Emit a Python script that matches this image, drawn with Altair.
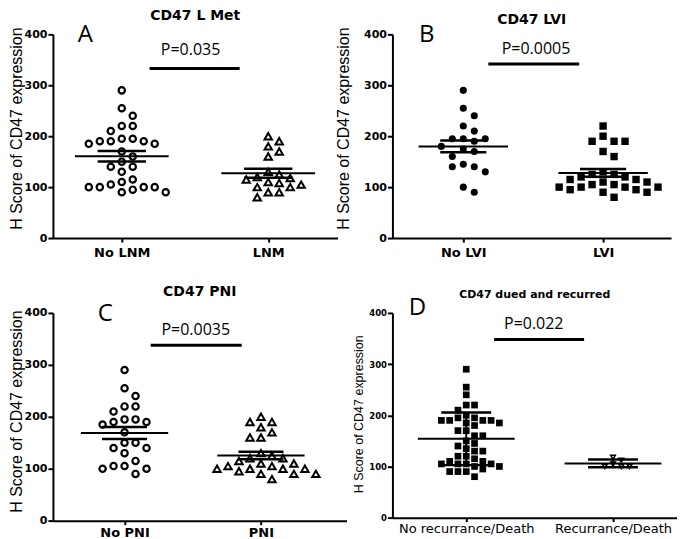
import statistics
import altair as alt
import pandas as pd

# ---------------- data: H score of CD47 expression ----------------
a_names = ["No LNM", "LNM"]
a_no_lnm = [290, 255, 240, 220, 220, 210, 195, 195, 190, 190, 190, 185, 185,
            170, 160, 150, 140, 140, 130, 115, 110, 105, 100, 100, 100, 100, 95, 90, 90]
a_lnm = [200, 190, 180, 170, 160, 130, 125, 120, 118, 115, 110, 108, 105,
         100, 100, 90, 90, 80]

b_names = ["No LVI", "LVI"]
b_no_lvi = [290, 255, 240, 220, 210, 195, 195, 195, 190, 180, 175, 170, 160,
            145, 140, 140, 130, 100, 90]
b_lvi = [220, 200, 190, 190, 190, 170, 160, 130, 125, 125, 120, 120, 115, 115,
         110, 110, 105, 105, 100, 100, 100, 100, 95, 95, 90, 90, 80]

c_names = ["No PNI", "PNI"]
c_no_pni = [290, 255, 240, 220, 220, 210, 195, 195, 190, 190, 185, 170, 150,
            150, 140, 140, 130, 115, 105, 105, 100, 100, 90]
c_pni = [200, 190, 190, 180, 170, 160, 160, 130, 125, 120, 120, 115, 110, 110,
         105, 105, 100, 100, 100, 100, 95, 90, 90, 90, 80]

d_names = ["No recurrance/Death", "Recurrance/Death"]
d_no_rec = [290, 255, 240, 220, 220, 210, 200, 195, 195, 190, 190, 190, 190,
            185, 185, 180, 170, 170, 160, 160, 150, 145, 140, 135, 130, 130,
            120, 120, 115, 110, 110, 105, 105, 105, 105, 100, 100, 95, 90, 90, 90, 80]
d_rec = [112, 100, 100, 100, 105, 118]

titles = ["CD47 L Met", "CD47 LVI", "CD47 PNI", "CD47 dued and recurred"]
letters = ["A", "B", "C", "D"]
p_values = ["P=0.035", "P=0.0005", "P=0.0035", "P=0.022"]
y_ticks = [0, 100, 200, 300, 400]
y_title = "H Score of CD47  expression"


def swarm(values, center, unit_px, slot_px, min_dy_px, val_px):
    """Simple scatter-dot-plot layout: spread near-equal values sideways."""
    order = sorted(range(len(values)), key=lambda i: -values[i])
    cand = [0]
    for k in range(1, 20):
        cand += [k, -k]
    placed = []
    xs = [0.0] * len(values)
    for i in order:
        yp = values[i] * val_px
        chosen = 0
        for s in cand:
            if all(not (ps == s and abs(py - yp) < min_dy_px) for ps, py in placed):
                chosen = s
                break
        placed.append((chosen, yp))
        xs[i] = center + chosen * slot_px / unit_px
    return xs


def panel(g1, g2, names, title, letter, ptext, s):
    w, h = s["w"], s["h"]
    x0, x1 = s["xdom"]
    unit_px = w / (x1 - x0)
    val_px = h / 400.0
    xs = alt.Scale(domain=[x0, x1], nice=False, zero=False)
    ys = alt.Scale(domain=[0, 400], nice=False)
    xaxis = alt.Axis(
        values=[1, 2],
        labelExpr=f"datum.value == 1 ? '{names[0]}' : (datum.value == 2 ? '{names[1]}' : '')",
        title=None, grid=False, domainColor="black", domainWidth=2,
        tickColor="black", tickWidth=2, tickSize=4, labelFont="DejaVu Sans",
        labelFontSize=s["xlab_size"], labelFontWeight=s["xlab_weight"],
        labelColor="black", labelPadding=s["xlab_pad"], labelAngle=0,
        labelFlush=False, labelOverlap=False,
    )
    yaxis = alt.Axis(
        values=y_ticks, title=None, grid=False, domainColor="black",
        domainWidth=2, tickColor="black", tickWidth=2, tickSize=5,
        labelFont="DejaVu Sans", labelFontSize=s["ylab_size"],
        labelFontWeight="bold", labelColor="black", labelPadding=1,
    )
    X = lambda f: alt.X(f, scale=xs, axis=xaxis)
    Y = lambda f: alt.Y(f, scale=ys, axis=yaxis)

    layers = []
    for c, vals, m in ((1, g1, s["m1"]), (2, g2, s["m2"])):
        px = swarm(vals, c, unit_px, m["slot"], m["dy"], val_px)
        df = pd.DataFrame({"x": px, "y": vals})
        layers.append(
            alt.Chart(df).mark_point(
                shape=m["shape"], filled=m["filled"], size=m["size"],
                strokeWidth=m["sw"], color="black", opacity=1,
            ).encode(x=X("x:Q"), y=Y("y:Q"))
        )

    mean_rows, err_rows, vert_rows = [], [], []
    for c, vals in ((1, g1), (2, g2)):
        mean = sum(vals) / len(vals)
        sd = statistics.stdev(vals)
        e = sd if s["err"] == "sd" else sd / len(vals) ** 0.5
        mean_rows.append({"x": c - s["mh"], "x2": c + s["mh"], "y": mean})
        for v in (mean - e, mean + e):
            err_rows.append({"x": c - s["eh"], "x2": c + s["eh"], "y": v})
        vert_rows.append({"x": c, "y": mean - e, "y2": mean + e})

    layers.append(
        alt.Chart(pd.DataFrame(mean_rows)).mark_rule(color="black", strokeWidth=2)
        .encode(x=X("x:Q"), x2="x2:Q", y=Y("y:Q"))
    )
    layers.append(
        alt.Chart(pd.DataFrame(err_rows)).mark_rule(color="black", strokeWidth=2.5)
        .encode(x=X("x:Q"), x2="x2:Q", y=Y("y:Q"))
    )
    if s["err"] == "sd":
        layers.append(
            alt.Chart(pd.DataFrame(vert_rows)).mark_rule(color="black", strokeWidth=2)
            .encode(x=X("x:Q"), y=Y("y:Q"), y2="y2:Q")
        )

    pb = s["pbar"]
    layers.append(
        alt.Chart(pd.DataFrame({"x": [pb[0]], "x2": [pb[1]], "y": [pb[2]]}))
        .mark_rule(color="black", strokeWidth=3)
        .encode(x=X("x:Q"), x2="x2:Q", y=Y("y:Q"))
    )
    pt = s["ptext"]
    layers.append(
        alt.Chart(pd.DataFrame({"x": [pt[0]], "y": [pt[1]], "t": [ptext]}))
        .mark_text(font="Open Sans", fontSize=16, color="black",
                   align="center", baseline="middle")
        .encode(x=X("x:Q"), y=Y("y:Q"), text="t:N")
    )
    lt = s["letter"]
    layers.append(
        alt.Chart(pd.DataFrame({"x": [lt[0]], "y": [lt[1]], "t": [letter]}))
        .mark_text(font="Open Sans", fontSize=24, color="black",
                   align="center", baseline="middle")
        .encode(x=X("x:Q"), y=Y("y:Q"), text="t:N")
    )
    # rotated y-axis title, placed left of the axis
    tx = x0 - s["ytitle_off"] / unit_px
    layers.append(
        alt.Chart(pd.DataFrame({"x": [tx], "y": [s["ytitle_y"]], "t": [y_title]}))
        .mark_text(font="Liberation Sans", fontSize=s["ytitle_size"], color="black",
                   align="center", baseline="middle", angle=270)
        .encode(x=X("x:Q"), y=Y("y:Q"), text="t:N")
    )

    return alt.layer(*layers).properties(
        width=w, height=h,
        title=alt.TitleParams(
            text=title, font="DejaVu Sans", fontSize=s["title_size"],
            fontWeight="bold", color="black", offset=s["title_offset"],
            anchor="middle", frame="group",
        ),
    )


open_circle = {"shape": "circle", "filled": False, "size": 40, "sw": 2.2, "slot": 11, "dy": 8.5}
open_tri = {"shape": "triangle-up", "filled": False, "size": 55, "sw": 2, "slot": 11, "dy": 8.5}
dot = {"shape": "circle", "filled": True, "size": 50, "sw": 0, "slot": 11, "dy": 8}
sq = {"shape": "square", "filled": True, "size": 55, "sw": 0, "slot": 11, "dy": 8}
sq_small = {"shape": "square", "filled": True, "size": 45, "sw": 0, "slot": 8.3, "dy": 6.7}
tri_down = {"shape": "triangle-down", "filled": False, "size": 22, "sw": 1.5, "slot": 8.3, "dy": 6}

common = {"xlab_size": 13, "xlab_weight": "bold", "xlab_pad": 4, "ylab_size": 11,
          "ytitle_size": 16, "ytitle_off": 36, "ytitle_y": 215,
          "title_size": 14, "mh": 0.32, "eh": 0.165, "err": "sem"}

spec_a = dict(common, w=285, h=204, xdom=[0.53, 2.473], m1=open_circle, m2=open_tri,
              title_offset=0, pbar=[1.19, 1.805, 333],
              ptext=[1.47, 370], letter=[0.752, 399])
spec_b = dict(common, w=279, h=204, xdom=[0.493, 2.486], m1=dot, m2=sq,
              ytitle_off=48, title_offset=-4, pbar=[1.179, 1.829, 342],
              ptext=[1.52, 372], letter=[0.739, 399])
spec_c = dict(common, w=294, h=208, xdom=[0.475, 2.627], m1=open_circle, m2=open_tri,
              ytitle_y=210, title_offset=4, xlab_pad=2, pbar=[1.192, 1.859, 338],
              ptext=[1.522, 367], letter=[0.859, 397])
spec_d = dict(common, w=285, h=205, xdom=[0.497, 2.436], m1=sq_small, m2=tri_down,
              ytitle_off=33, ytitle_y=202, title_offset=-4, title_size=11, ylab_size=8.5,
              ytitle_size=12.5, xlab_weight="normal", xlab_pad=1, err="sd",
              mh=0.33, eh=0.17, pbar=[1.19, 1.803, 348],
              ptext=[1.46, 378], letter=[0.667, 409])

pa = panel(a_no_lnm, a_lnm, a_names, titles[0], letters[0], p_values[0], spec_a)
pb_ = panel(b_no_lvi, b_lvi, b_names, titles[1], letters[1], p_values[1], spec_b)
pc = panel(c_no_pni, c_pni, c_names, titles[2], letters[2], p_values[2], spec_c)
pd_ = panel(d_no_rec, d_rec, d_names, titles[3], letters[3], p_values[3], spec_d)

chart = alt.concat(
    pa, pb_, pc, pd_, columns=2,
    spacing={"row": 75, "column": 46}, align="none", bounds="flush",
).properties(padding=0).configure_view(stroke=None)

chart.save("out.html", embed_options={"renderer": "svg", "actions": False})
